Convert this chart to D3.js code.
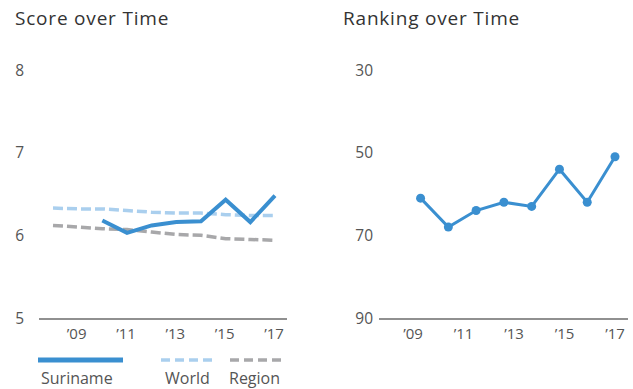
<!DOCTYPE html>
<html>
<head>
<meta charset="utf-8">
<script src="https://cdn.jsdelivr.net/npm/d3@7/dist/d3.min.js"></script>
<style>
  html, body { margin: 0; padding: 0; background: #fff; }
  svg { display: block; font-family: "Open Sans", Lato, sans-serif; }
</style>
</head>
<body>
<svg id="chart" width="633" height="389"></svg>
<script>
// ---- data ----
const years = [2008, 2009, 2010, 2011, 2012, 2013, 2014, 2015, 2016, 2017];
const worldScores  = [6.33, 6.32, 6.32, 6.30, 6.28, 6.27, 6.27, 6.25, 6.24, 6.24];
const regionScores = [6.12, 6.10, 6.08, 6.07, 6.04, 6.01, 6.00, 5.96, 5.95, 5.94];
const surinameYears  = [2010, 2011, 2012, 2013, 2014, 2015, 2016, 2017];
const surinameScores = [6.18, 6.03, 6.12, 6.16, 6.17, 6.43, 6.16, 6.48];
const rankDates = [2009.3, 2010.4, 2011.5, 2012.6, 2013.7, 2014.8, 2015.9, 2017.0];
const ranks     = [61, 68, 64, 62, 63, 54, 62, 51];
const xTickYears = [2009, 2011, 2013, 2015, 2017];
const scoreTicks = [5, 6, 7, 8];
const rankTicks  = [30, 50, 70, 90];
const legendLabels = ["Suriname", "World", "Region"];

// ---- styles ----
const BLUE = "#3a8fd0", LIGHT = "#aacfee", GRAY = "#a8a8aa";
const TXT = "#555", TITLE = "#333";
const svg = d3.select("#chart");
const fmtYear = d => "\u2019" + String(d).slice(2);

// ---- Score chart ----
const xS = d3.scaleLinear().domain([2008, 2017]).range([53, 275]);
const yS = d3.scaleLinear().domain([5, 8]).range([318, 70]);

svg.append("text").attr("x", 15).attr("y", 25).attr("font-size", 19)
  .attr("letter-spacing", 0.8).attr("fill", TITLE).text("Score over Time");

const gS = svg.append("g");
gS.selectAll("text.ylab").data(scoreTicks).join("text")
  .attr("class", "ylab").attr("x", 24).attr("y", d => yS(d) + 5.5)
  .attr("text-anchor", "end").attr("font-size", 15.5).attr("fill", TXT).text(d => d);
gS.append("line").attr("x1", 39).attr("x2", 287).attr("y1", yS(5) + 1).attr("y2", yS(5) + 1)
  .attr("stroke", "#222").attr("stroke-width", 1.2);
gS.selectAll("text.xlab").data(xTickYears).join("text")
  .attr("class", "xlab").attr("x", d => xS(d) - 1).attr("y", 339)
  .attr("text-anchor", "middle").attr("font-size", 15).attr("fill", TXT).text(fmtYear);

const lineS = d3.line().x(d => xS(d[0])).y(d => yS(d[1]));
gS.append("path").datum(d3.zip(years, worldScores)).attr("d", lineS)
  .attr("fill", "none").attr("stroke", LIGHT).attr("stroke-width", 3.5)
  .attr("stroke-dasharray", "10,4");
gS.append("path").datum(d3.zip(years, regionScores)).attr("d", lineS)
  .attr("fill", "none").attr("stroke", GRAY).attr("stroke-width", 3.5)
  .attr("stroke-dasharray", "10,4");
gS.append("path").datum(d3.zip(surinameYears, surinameScores)).attr("d", lineS)
  .attr("fill", "none").attr("stroke", BLUE).attr("stroke-width", 4)
  .attr("stroke-linejoin", "miter");

// ---- legend ----
const lg = svg.append("g");
lg.append("line").attr("x1", 38).attr("x2", 123).attr("y1", 360).attr("y2", 360)
  .attr("stroke", BLUE).attr("stroke-width", 5);
lg.append("line").attr("x1", 161).attr("x2", 212).attr("y1", 360).attr("y2", 360)
  .attr("stroke", LIGHT).attr("stroke-width", 3.5).attr("stroke-dasharray", "9,5");
lg.append("line").attr("x1", 230).attr("x2", 281).attr("y1", 360).attr("y2", 360)
  .attr("stroke", GRAY).attr("stroke-width", 3.5).attr("stroke-dasharray", "9,5");
const legX = [41, 165, 229];
lg.selectAll("text").data(legendLabels).join("text")
  .attr("x", (d, i) => legX[i]).attr("y", 384).attr("font-size", 16)
  .attr("fill", TXT).text(d => d);

// ---- Ranking chart ----
const xR = d3.scaleLinear().domain([2009, 2017]).range([413, 615]);
const yR = d3.scaleLinear().domain([30, 90]).range([70, 318]);

svg.append("text").attr("x", 343).attr("y", 25).attr("font-size", 19)
  .attr("letter-spacing", 0.8).attr("fill", TITLE).text("Ranking over Time");

const gR = svg.append("g");
gR.selectAll("text.ylab").data(rankTicks).join("text")
  .attr("class", "ylab").attr("x", 373).attr("y", d => yR(d) + 5.5)
  .attr("text-anchor", "end").attr("font-size", 15.5).attr("fill", TXT).text(d => d);
gR.append("line").attr("x1", 379).attr("x2", 628).attr("y1", yR(90) + 1).attr("y2", yR(90) + 1)
  .attr("stroke", "#222").attr("stroke-width", 1.2);
gR.selectAll("text.xlab").data(xTickYears).join("text")
  .attr("class", "xlab").attr("x", d => xR(d)).attr("y", 339)
  .attr("text-anchor", "middle").attr("font-size", 15).attr("fill", TXT).text(fmtYear);

const rankData = d3.zip(rankDates, ranks);
gR.append("path").datum(rankData)
  .attr("d", d3.line().x(d => xR(d[0])).y(d => yR(d[1])))
  .attr("fill", "none").attr("stroke", BLUE).attr("stroke-width", 3);
gR.selectAll("circle").data(rankData).join("circle")
  .attr("cx", d => xR(d[0])).attr("cy", d => yR(d[1])).attr("r", 4.5).attr("fill", BLUE);
</script>
</body>
</html>
